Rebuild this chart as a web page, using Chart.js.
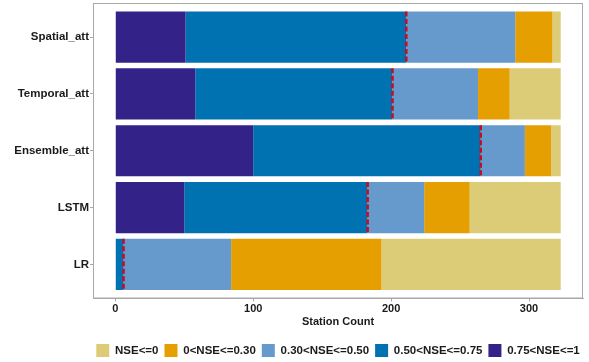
<!DOCTYPE html>
<html>
<head>
<meta charset="utf-8">
<script src="https://cdn.jsdelivr.net/npm/chart.js@4"></script>
<style>
  html, body { margin: 0; padding: 0; background: #ffffff; }
  #wrap { width: 589px; height: 362px; }
</style>
</head>
<body>
<div id="wrap"><canvas id="chart" width="589" height="362"></canvas></div>
<script>
// Models, top to bottom
const categories = ['Spatial_att', 'Temporal_att', 'Ensemble_att', 'LSTM', 'LR'];

// Station counts per NSE class for each model
const nse075to1   = [51, 58, 100, 50, 0];
const nse050to075 = [160, 143, 165, 133, 6];
const nse030to050 = [79, 62, 32, 41, 78];
const nse0to030   = [27, 23, 19, 33, 109];
const nseLe0      = [6, 37, 7, 66, 130];

const xTicks = [0, 100, 200, 300];

const seriesLabels = ['0.75<NSE<=1', '0.50<NSE<=0.75', '0.30<NSE<=0.50', '0<NSE<=0.30', 'NSE<=0'];
const seriesValues = [nse075to1, nse050to075, nse030to050, nse0to030, nseLe0];
const seriesColors = ['#332288', '#0072B2', '#6699CC', '#E69F00', '#DDCC77'];

const axisGrey = '#A8A8A8';
const textColor = '#1A1A1A';
const boldFont = (size) => ({ family: '"Liberation Sans", Arial, sans-serif', size: size, weight: 'bold' });

const datasets = seriesLabels.map((label, s) => ({
  label: label,
  data: categories.map((c, i) => ({ y: i + 1, x: seriesValues[s][i] })),
  backgroundColor: seriesColors[s],
  borderWidth: 0,
  barPercentage: 0.9,
  categoryPercentage: 1.0
}));

// Total for each model, used for the x range
const totals = categories.map((c, i) => seriesValues.reduce((acc, arr) => acc + arr[i], 0));
const xMaxData = Math.max(...totals);
const xPad = xMaxData * 0.05;

// Dashed marker at the count of stations with NSE > 0.50
const thresholdLines = {
  id: 'thresholdLines',
  afterDatasetsDraw(chart) {
    const ctx = chart.ctx;
    const xs = chart.scales.x;
    const meta = chart.getDatasetMeta(1);
    ctx.save();
    ctx.strokeStyle = '#CC0A1E';
    ctx.lineWidth = 2.5;
    ctx.setLineDash([5, 2.5]);
    meta.data.forEach((bar, i) => {
      const v = nse075to1[i] + nse050to075[i];
      const px = xs.getPixelForValue(v);
      const half = bar.height / 2;
      ctx.beginPath();
      ctx.moveTo(px, bar.y - half);
      ctx.lineTo(px, bar.y + half);
      ctx.stroke();
    });
    ctx.restore();
  }
};

// Frame around the plotting panel; legend centred under the panel
const panelBorder = {
  id: 'panelBorder',
  beforeDraw(chart) {
    const a = chart.chartArea;
    const lg = chart.legend;
    const shift = (a.left + a.right) / 2 - (lg.left + lg.right) / 2;
    lg.left += shift;
    lg.right += shift;
  },
  afterDraw(chart) {
    const a = chart.chartArea;
    const ctx = chart.ctx;
    ctx.save();
    ctx.strokeStyle = axisGrey;
    ctx.lineWidth = 1;
    ctx.strokeRect(a.left + 0.5, a.top + 0.5, a.right - a.left - 1, a.bottom - a.top - 1);
    ctx.restore();
  }
};

new Chart(document.getElementById('chart'), {
  type: 'bar',
  data: { datasets: datasets },
  options: {
    indexAxis: 'y',
    responsive: false,
    animation: false,
    layout: { padding: { top: 3, right: 6, left: 0, bottom: -5 } },
    plugins: {
      legend: {
        position: 'bottom',
        reverse: true,
        labels: {
          boxWidth: 13,
          boxHeight: 13,
          padding: 6,
          color: textColor,
          font: boldFont(11.5)
        }
      },
      tooltip: { enabled: false }
    },
    scales: {
      x: {
        type: 'linear',
        stacked: true,
        min: -xPad,
        max: xMaxData + xPad,
        afterBuildTicks(scale) { scale.ticks = xTicks.map(v => ({ value: v })); },
        afterFit(scale) { scale.height = 39.5; },
        grid: { drawOnChartArea: false, drawTicks: true, tickLength: 3, color: axisGrey },
        border: { display: true, color: axisGrey },
        ticks: { color: textColor, font: boldFont(11), padding: 1, maxRotation: 0 },
        title: { display: true, text: 'Station Count', color: textColor, font: boldFont(11), padding: { top: 0, bottom: 9.5 } }
      },
      y: {
        type: 'linear',
        stacked: true,
        reverse: true,
        offset: false,
        min: 0.4,
        max: categories.length + 0.6,
        afterBuildTicks(scale) { scale.ticks = categories.map((c, i) => ({ value: i + 1 })); },
        afterFit(scale) {
          scale.width = 93;
          scale.paddingTop = 0;
          scale.paddingBottom = 0;
        },
        grid: { offset: false, drawOnChartArea: false, drawTicks: true, tickLength: 3, color: axisGrey },
        border: { display: true, color: axisGrey },
        ticks: {
          color: textColor,
          font: boldFont(11.5),
          padding: 1,
          callback: (v) => categories[Math.round(v) - 1]
        }
      }
    }
  },
  plugins: [thresholdLines, panelBorder]
});
</script>
</body>
</html>
